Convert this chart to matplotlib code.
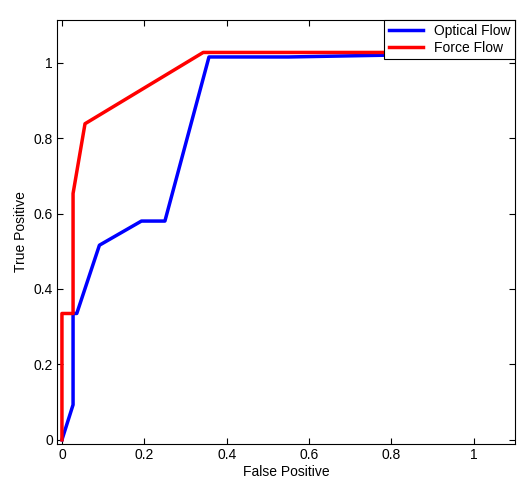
import matplotlib.pyplot as plt

# ROC curves
optical_fp = [0.0, 0.027, 0.027, 0.036, 0.091, 0.193, 0.25, 0.357, 0.55, 0.8, 1.0]
optical_tp = [0.0, 0.093, 0.335, 0.335, 0.516, 0.58, 0.58, 1.015, 1.015, 1.02, 1.022]
force_fp = [0.0, 0.0, 0.027, 0.027, 0.056, 0.343, 1.0]
force_tp = [0.0, 0.335, 0.335, 0.653, 0.838, 1.027, 1.027]

plt.rcParams['font.family'] = ['Liberation Sans', 'DejaVu Sans']
fig = plt.figure(figsize=(5.31, 4.79), dpi=100)
ax = fig.add_axes([57 / 531, 35 / 479, 458 / 531, 424 / 479])

ax.plot(optical_fp, optical_tp, color='#0000ff', lw=2.5, label='Optical Flow')
ax.plot(force_fp, force_tp, color='#ff0000', lw=2.5, label='Force Flow')

ax.set_xlim(-0.012, 1.1)
ax.set_ylim(-0.011, 1.113)
ax.set_xticks([0, 0.2, 0.4, 0.6, 0.8, 1])
ax.set_xticklabels(['0', '0.2', '0.4', '0.6', '0.8', '1'])
ax.set_yticks([0, 0.2, 0.4, 0.6, 0.8, 1])
ax.set_yticklabels(['0', '0.2', '0.4', '0.6', '0.8', '1'])
ax.tick_params(direction='in', top=True, right=True, labelsize=10, length=4, pad=3)
ax.set_xlabel('False Positive', fontsize=10, labelpad=2)
ax.set_ylabel('True Positive', fontsize=10, labelpad=4)

leg = ax.legend(loc='upper right', fontsize=10, fancybox=False, framealpha=1,
                edgecolor='black', borderaxespad=0.0, handlelength=2.5,
                borderpad=0.3, labelspacing=0.2)
leg.get_frame().set_linewidth(0.8)

fig.savefig('out.png', dpi=100)
